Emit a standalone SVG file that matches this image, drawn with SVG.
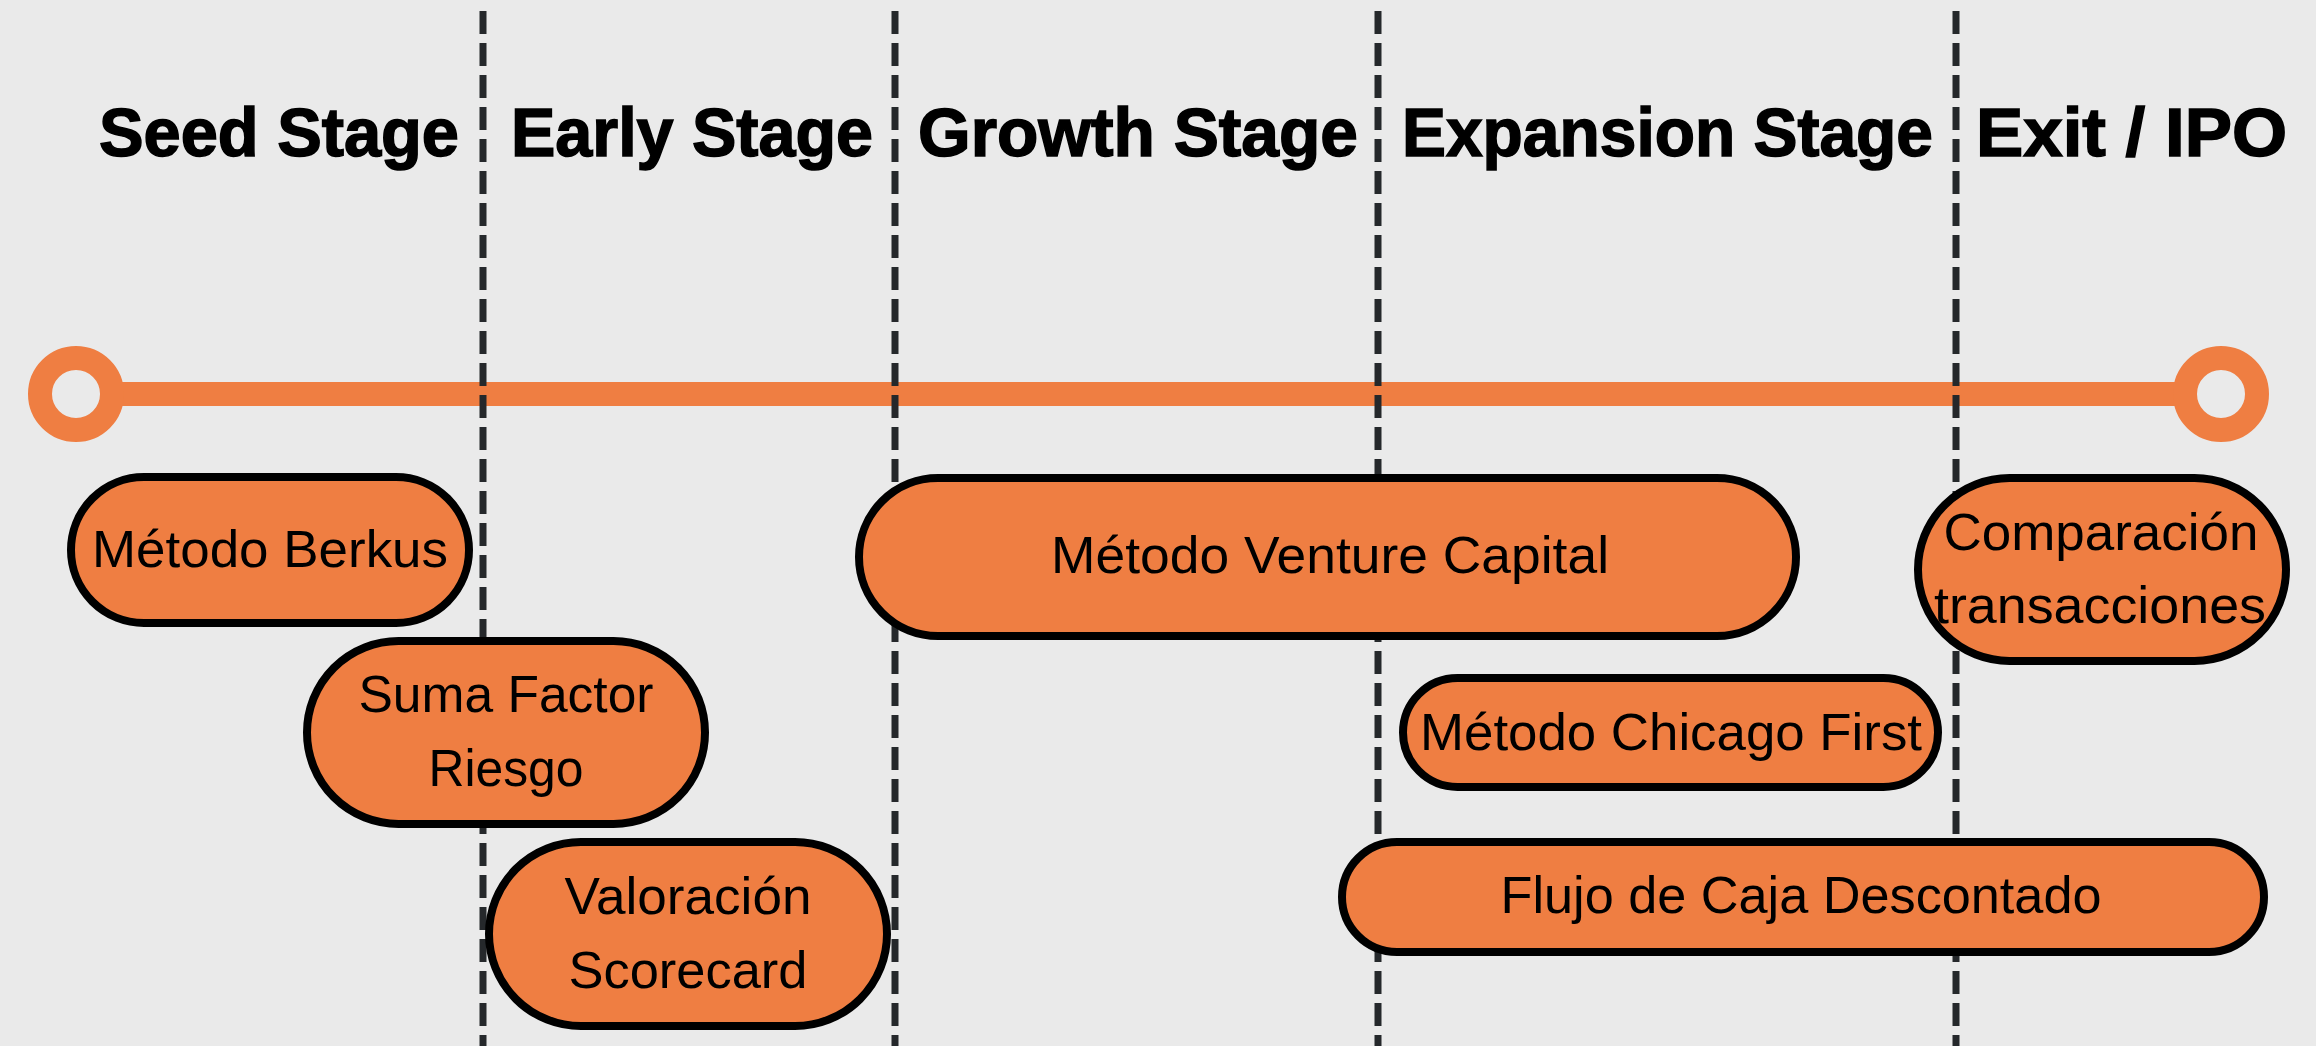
<svg xmlns="http://www.w3.org/2000/svg" width="2316" height="1046" viewBox="0 0 2316 1046">
  <style>
    .title { font-family: "Liberation Sans", Arial, sans-serif; font-weight: bold; font-size: 68px; fill: #000; stroke: #000; stroke-width: 1.5; }
    .label { font-family: "Liberation Sans", Arial, sans-serif; font-size: 52px; fill: #000; text-anchor: middle; }
    .pill { fill: #ef7e42; stroke: #000; stroke-width: 8; }
    .divider { stroke: #25282b; stroke-width: 7; stroke-dasharray: 23 9; fill: none; }
    .axis { stroke: #ef7e42; stroke-width: 24; fill: none; }
    .cap { stroke: #ef7e42; stroke-width: 24; fill: #eaeaea; }
  </style>

  <rect x="0" y="0" width="2316" height="1046" fill="#eaeaea"/>

  <!-- stage headings -->
  <g id="stage-titles">
    <text class="title" x="99" y="156" textLength="360" lengthAdjust="spacingAndGlyphs">Seed Stage</text>
    <text class="title" x="511" y="156" textLength="362" lengthAdjust="spacingAndGlyphs">Early Stage</text>
    <text class="title" x="918" y="156" textLength="440" lengthAdjust="spacingAndGlyphs">Growth Stage</text>
    <text class="title" x="1402" y="156" textLength="531" lengthAdjust="spacingAndGlyphs">Expansion Stage</text>
    <text class="title" x="1976" y="156" textLength="311" lengthAdjust="spacingAndGlyphs">Exit / IPO</text>
  </g>

  <!-- timeline axis with end caps -->
  <g id="timeline">
    <line class="axis" x1="76" y1="394" x2="2221" y2="394"/>
    <circle class="cap" cx="76" cy="394" r="36"/>
    <circle class="cap" cx="2221" cy="394" r="36"/>
  </g>

  <!-- stage dividers -->
  <g id="connectors">
    <line class="divider" x1="483" y1="11" x2="483" y2="1046"/>
    <line class="divider" x1="895" y1="11" x2="895" y2="1046"/>
    <line class="divider" x1="1378" y1="11" x2="1378" y2="1046"/>
    <line class="divider" x1="1956" y1="11" x2="1956" y2="1046"/>
  </g>

  <!-- valuation methods -->
  <g id="metodo-berkus">
    <rect class="pill" x="71" y="477" width="398" height="146" rx="73"/>
    <text class="label" x="270" y="567" textLength="356" lengthAdjust="spacingAndGlyphs">Método Berkus</text>
  </g>

  <g id="suma-factor-riesgo">
    <rect class="pill" x="307" y="641" width="398" height="183" rx="91.5"/>
    <text class="label" x="506" y="712" textLength="295" lengthAdjust="spacingAndGlyphs">Suma Factor</text>
    <text class="label" x="506" y="786" textLength="155" lengthAdjust="spacingAndGlyphs">Riesgo</text>
  </g>

  <g id="valoracion-scorecard">
    <rect class="pill" x="489" y="842" width="398" height="184" rx="92"/>
    <text class="label" x="688" y="914" textLength="247" lengthAdjust="spacingAndGlyphs">Valoración</text>
    <text class="label" x="688" y="988" textLength="239" lengthAdjust="spacingAndGlyphs">Scorecard</text>
  </g>

  <g id="metodo-venture-capital">
    <rect class="pill" x="859" y="478" width="937" height="158" rx="79"/>
    <text class="label" x="1330" y="573" textLength="558" lengthAdjust="spacingAndGlyphs">Método Venture Capital</text>
  </g>

  <g id="comparacion-transacciones">
    <rect class="pill" x="1918" y="478" width="368" height="183" rx="91.5"/>
    <text class="label" x="2101" y="550" textLength="315" lengthAdjust="spacingAndGlyphs">Comparación</text>
    <text class="label" x="2100" y="623" textLength="332" lengthAdjust="spacingAndGlyphs">transacciones</text>
  </g>

  <g id="metodo-chicago-first">
    <rect class="pill" x="1403" y="678" width="535" height="109" rx="54.5"/>
    <text class="label" x="1671" y="750" textLength="502" lengthAdjust="spacingAndGlyphs">Método Chicago First</text>
  </g>

  <g id="flujo-caja-descontado">
    <rect class="pill" x="1342" y="842" width="922" height="110" rx="55"/>
    <text class="label" x="1801" y="913" textLength="601" lengthAdjust="spacingAndGlyphs">Flujo de Caja Descontado</text>
  </g>
</svg>
